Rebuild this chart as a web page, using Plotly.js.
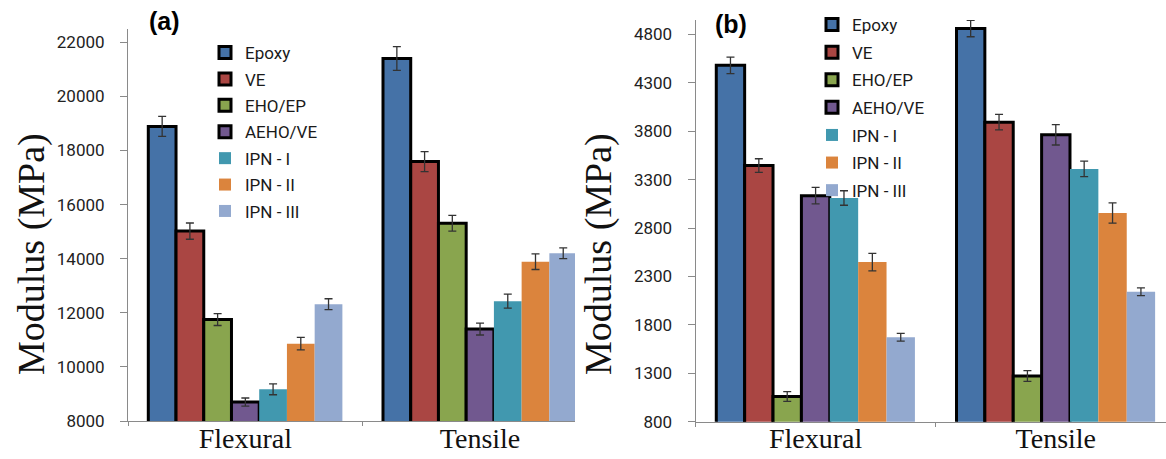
<!DOCTYPE html>
<html><head><meta charset="utf-8">
<script src="https://cdn.plot.ly/plotly-3.0.1.min.js"></script>
<style>html,body{margin:0;padding:0;background:#fff;} #chart{width:1166px;height:459px;}</style>
</head><body><div id="chart"></div>
<script>
// ---- data ----
const categories = ['Flexural', 'Tensile'];
const seriesNames = ['Epoxy', 'VE', 'EHO/EP', 'AEHO/VE', 'IPN - I', 'IPN - II', 'IPN - III'];

// panel (a)
const a_Epoxy      = [18890, 21400];
const a_Epoxy_err  = [370, 440];
const a_VE         = [15020, 17590];
const a_VE_err     = [300, 370];
const a_EHO_EP     = [11750, 15310];
const a_EHO_EP_err = [220, 290];
const a_AEHO_VE    = [8700, 11400];
const a_AEHO_VE_err= [150, 220];
const a_IPN_I      = [9170, 12430];
const a_IPN_I_err  = [200, 260];
const a_IPN_II     = [10860, 13890];
const a_IPN_II_err = [230, 290];
const a_IPN_III    = [12320, 14200];
const a_IPN_III_err= [200, 200];

// panel (b)
const b_Epoxy      = [4480, 4860];
const b_Epoxy_err  = [85, 85];
const b_VE         = [3445, 3893];
const b_VE_err     = [70, 80];
const b_EHO_EP     = [1060, 1272];
const b_EHO_EP_err = [50, 55];
const b_AEHO_VE    = [3134, 3762];
const b_AEHO_VE_err= [85, 105];
const b_IPN_I      = [3110, 3410];
const b_IPN_I_err  = [75, 80];
const b_IPN_II     = [2448, 2955];
const b_IPN_II_err = [90, 105];
const b_IPN_III    = [1672, 2141];
const b_IPN_III_err= [40, 40];

const a_ticks = [8000, 10000, 12000, 14000, 16000, 18000, 20000, 22000];
const b_ticks = [800, 1300, 1800, 2300, 2800, 3300, 3800, 4300, 4800];
const yTitle = 'Modulus (MPa)';
const panelLabels = ['(a)', '(b)'];

// ---- styles ----
const colors = ['#4572A7', '#AA4643', '#89A54E', '#71588F', '#4198AF', '#DB843D', '#93A9CF'];
const outlined = [true, true, true, true, false, false, false];

const aVals = [a_Epoxy, a_VE, a_EHO_EP, a_AEHO_VE, a_IPN_I, a_IPN_II, a_IPN_III];
const aErrs = [a_Epoxy_err, a_VE_err, a_EHO_EP_err, a_AEHO_VE_err, a_IPN_I_err, a_IPN_II_err, a_IPN_III_err];
const bVals = [b_Epoxy, b_VE, b_EHO_EP, b_AEHO_VE, b_IPN_I, b_IPN_II, b_IPN_III];
const bErrs = [b_Epoxy_err, b_VE_err, b_EHO_EP_err, b_AEHO_VE_err, b_IPN_I_err, b_IPN_II_err, b_IPN_III_err];

const W = 1166, H = 459;
const px = v => v / W;
const py = v => 1 - v / H;

function mk(vals, errs, i, xa, ya, leg, grp) {
  return {
    type: 'bar', name: seriesNames[i], x: categories, y: vals, xaxis: xa, yaxis: ya,
    legend: leg, legendgroup: grp + i,
    marker: { color: colors[i], line: { color: outlined[i] ? '#000' : colors[i], width: outlined[i] ? 3 : 0 } },
    error_y: { type: 'data', array: errs, visible: true, color: '#333', thickness: 1.3, width: 4 },
    hoverinfo: 'skip'
  };
}
const traces = [];
for (let i = 0; i < 7; i++) traces.push(mk(aVals[i], aErrs[i], i, 'x', 'y', 'legend', 'a'));
for (let i = 0; i < 7; i++) traces.push(mk(bVals[i], bErrs[i], i, 'x2', 'y2', 'legend2', 'b'));

const axisGray = '#8a8a8a';
const tickFont = { family: 'Roboto, sans-serif', size: 17, color: '#222' };
const catFont = { family: 'Liberation Serif, serif', size: 28, color: '#111' };
const titleFont = { family: 'Liberation Serif, serif', size: 38, color: '#111' };

function xAx(dom, rng, anchor) {
  return {
    domain: dom, range: rng, anchor: anchor, type: 'category',
    showline: true, linecolor: axisGray, linewidth: 1,
    ticks: 'outside', tickson: 'boundaries', ticklen: 4, tickcolor: axisGray,
    tickfont: catFont, showgrid: false, zeroline: false, fixedrange: true, ticklabelstandoff: -8
  };
}
function yAx(dom, rng, tv, anchor) {
  return {
    domain: dom, range: rng, anchor: anchor, tickvals: tv, ticktext: tv.map(String),
    showline: true, linecolor: axisGray, linewidth: 1,
    ticks: 'outside', ticklen: 7, tickcolor: axisGray, tickfont: tickFont,
    showgrid: false, zeroline: false, fixedrange: true, ticklabelstandoff: 12
  };
}

const legendBase = {
  font: { family: 'Roboto, sans-serif', size: 17, color: '#1a1a1a' },
  bgcolor: 'rgba(0,0,0,0)', traceorder: 'grouped',
  xanchor: 'left', yanchor: 'top', orientation: 'v'
};

const layout = {
  width: W, height: H,
  margin: { l: 0, r: 0, t: 0, b: 0 },
  paper_bgcolor: '#fff', plot_bgcolor: 'rgba(0,0,0,0)',
  barmode: 'group', bargap: 0.173, bargroupgap: 0,
  showlegend: true,
  xaxis: xAx([px(128), px(575)], [-0.5, 1.4046], 'y'),
  yaxis: yAx([py(421), py(29)], [8000, 22492], a_ticks, 'x'),
  xaxis2: xAx([px(695.5), 1], [-0.5, 1.4588], 'y2'),
  yaxis2: yAx([py(421.7), py(20)], [800, 4948], b_ticks, 'x2'),
  legend: Object.assign({}, legendBase, { x: px(205), y: py(35), tracegroupgap: 1.3 }),
  legend2: Object.assign({}, legendBase, { x: px(812), y: py(7), tracegroupgap: 2.5 }),
  annotations: [
    { text: '<b>' + panelLabels[0] + '</b>', xref: 'paper', yref: 'paper', x: px(164), y: py(21),
      xanchor: 'center', yanchor: 'middle', showarrow: false,
      font: { family: 'Liberation Sans, sans-serif', size: 25, color: '#000' } },
    { text: '<b>' + panelLabels[1] + '</b>', xref: 'paper', yref: 'paper', x: px(731), y: py(24),
      xanchor: 'center', yanchor: 'middle', showarrow: false,
      font: { family: 'Liberation Sans, sans-serif', size: 25, color: '#000' } },
    { text: yTitle, xref: 'paper', yref: 'paper', x: px(31), y: py(254), textangle: -90,
      xanchor: 'center', yanchor: 'middle', showarrow: false, font: titleFont },
    { text: yTitle, xref: 'paper', yref: 'paper', x: px(598), y: py(254), textangle: -90,
      xanchor: 'center', yanchor: 'middle', showarrow: false, font: titleFont }
  ]
};

Plotly.newPlot('chart', traces, layout, { staticPlot: true, displayModeBar: false });
</script>
</body></html>
